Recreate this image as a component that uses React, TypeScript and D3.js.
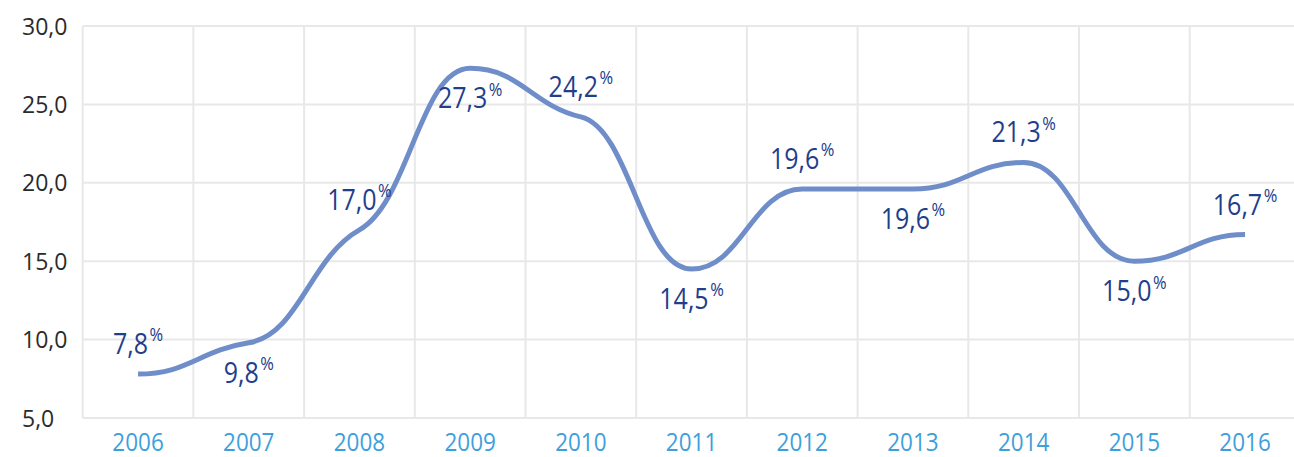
import React, { useEffect, useRef } from "react";
import * as d3 from "d3";

// chart values
const years = ["2006", "2007", "2008", "2009", "2010", "2011", "2012", "2013", "2014", "2015", "2016"];
const rates = [7.8, 9.8, 17.0, 27.3, 24.2, 14.5, 19.6, 19.6, 21.3, 15.0, 16.7];
const yTicks = [5, 10, 15, 20, 25, 30];

const W = 1294;
const H = 457;

// smooth curve through the points, flat at turns, softened slope elsewhere
function softPath(pts: [number, number][], k: number, hr: number) {
  const p = d3.path();
  const n = pts.length;
  const m = pts.map((pt, i) => {
    if (i === 0 || i === n - 1) return 0;
    const s0 = (pt[1] - pts[i - 1][1]) / (pt[0] - pts[i - 1][0]);
    const s1 = (pts[i + 1][1] - pt[1]) / (pts[i + 1][0] - pt[0]);
    if (s0 * s1 <= 0) return 0;
    return Math.sign(s0) * k * Math.min(Math.abs(s0), Math.abs(s1));
  });
  p.moveTo(pts[0][0], pts[0][1]);
  for (let i = 0; i < n - 1; i++) {
    const h = (pts[i + 1][0] - pts[i][0]) * hr;
    p.bezierCurveTo(
      pts[i][0] + h,
      pts[i][1] + h * m[i],
      pts[i + 1][0] - h,
      pts[i + 1][1] - h * m[i + 1],
      pts[i + 1][0],
      pts[i + 1][1]
    );
  }
  return p.toString();
}

const App = () => {
  const svgRef = useRef<SVGSVGElement>(null);

  useEffect(() => {
    document.body.style.margin = "0";
    const svg = d3.select(svgRef.current);
    svg.selectAll("*").remove();

    const x = d3.scaleBand().domain(years).range([82.7, 1300.4]).padding(0);
    const y = d3.scaleLinear().domain([5, 30]).range([418, 26]);
    const cx = (d: string) => (x(d) as number) + x.bandwidth() / 2;

    // horizontal grid
    svg
      .append("g")
      .selectAll("line")
      .data(yTicks)
      .enter()
      .append("line")
      .attr("x1", 82.7)
      .attr("x2", W)
      .attr("y1", (d) => y(d))
      .attr("y2", (d) => y(d))
      .attr("stroke", "#e8e8e8")
      .attr("stroke-width", 2);

    // vertical grid at band edges
    const edges = years.map((d) => x(d) as number).concat([1300.4]);
    svg
      .append("g")
      .selectAll("line")
      .data(edges)
      .enter()
      .append("line")
      .attr("x1", (d) => d)
      .attr("x2", (d) => d)
      .attr("y1", 26)
      .attr("y2", 418)
      .attr("stroke", "#e8e8e8")
      .attr("stroke-width", 2);

    // y labels (left aligned)
    svg
      .append("g")
      .selectAll("text")
      .data(yTicks)
      .enter()
      .append("text")
      .attr("x", 22)
      .attr("y", (d) => y(d) + 8.5)
      .attr("font-family", "'Open Sans', sans-serif")
      .attr("font-size", 23)
      .attr("fill", "#2b2b2b")
      .text((d) => d.toFixed(1).replace(".", ","));

    // x labels
    svg
      .append("g")
      .selectAll("text")
      .data(years)
      .enter()
      .append("text")
      .attr("transform", (d) => `translate(${cx(d)},451) scale(1,1.12)`)
      .attr("text-anchor", "middle")
      .attr("font-family", "'Open Sans', sans-serif")
      .attr("font-size", 22.5)
      .attr("fill", "#3d9fdb")
      .text((d) => d);

    // line
    const pts: [number, number][] = rates.map((d, i) => [cx(years[i]), y(d)]);
    svg
      .append("path")
      .attr("d", softPath(pts, 0.55, 0.45))
      .attr("fill", "none")
      .attr("stroke", "#6f8ec9")
      .attr("stroke-width", 5);

    // value labels, alternating above / below
    const labels = svg
      .append("g")
      .selectAll("text")
      .data(rates)
      .enter()
      .append("text")
      .attr("transform", (d, i) => {
        const ly = i % 2 === 0 ? y(d) - 20 : y(d) + 40;
        return `translate(${cx(years[i])},${ly}) scale(1,1.15)`;
      })
      .attr("text-anchor", "middle")
      .attr("font-family", "'Open Sans', sans-serif")
      .attr("font-size", 25)
      .attr("fill", "#1f3f8c");

    labels.append("tspan").text((d) => d.toFixed(1).replace(".", ","));
    labels
      .append("tspan")
      .attr("dx", 1.5)
      .attr("dy", -11)
      .attr("font-size", 16.5)
      .text("%");
  }, []);

  return (
    <div id="svg-data">
      <svg ref={svgRef} width={W} height={H} style={{ display: "block", background: "#fff" }}></svg>
    </div>
  );
};

export default App;
